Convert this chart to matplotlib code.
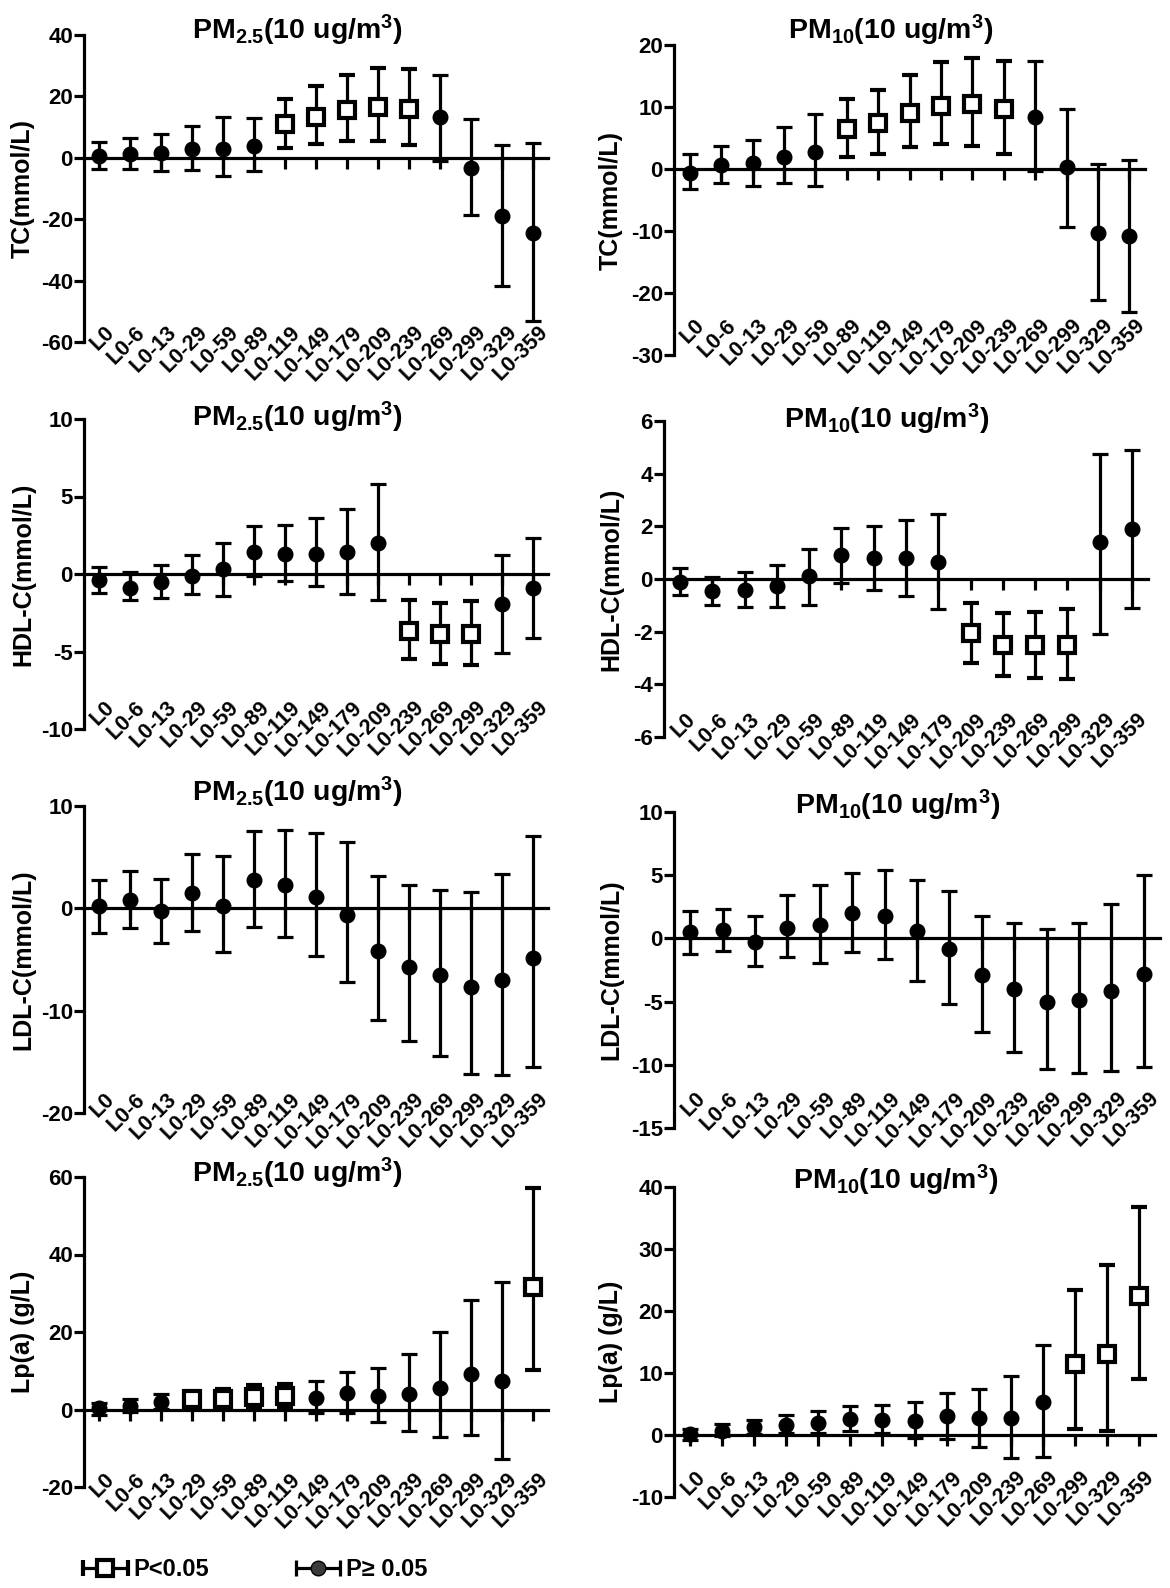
import matplotlib

matplotlib.use("Agg")
import matplotlib.pyplot as plt
from matplotlib.container import ErrorbarContainer
from matplotlib.legend_handler import HandlerErrorbar
from matplotlib.transforms import blended_transform_factory

plt.rcParams["font.family"] = ["Liberation Sans", "DejaVu Sans"]
plt.rcParams["font.weight"] = "bold"
plt.rcParams["mathtext.fontset"] = "custom"
plt.rcParams["mathtext.rm"] = "Liberation Sans:bold"
plt.rcParams["mathtext.bf"] = "Liberation Sans:bold"
plt.rcParams["mathtext.default"] = "bf"
plt.rcParams["axes.unicode_minus"] = False

lags = ["L0", "L0-6", "L0-13", "L0-29", "L0-59", "L0-89", "L0-119", "L0-149",
        "L0-179", "L0-209", "L0-239", "L0-269", "L0-299", "L0-329", "L0-359"]

# TC, PM2.5
tc25_est = [0.6, 1.4, 1.7, 2.9, 2.9, 3.9, 10.9, 13.3, 15.7, 16.7, 15.9, 13.3, -3.4, -18.9, -24.5]
tc25_lo = [-3.8, -3.6, -4.4, -3.9, -6.0, -4.4, 3.2, 4.5, 5.6, 5.6, 4.1, -0.9, -18.7, -41.6, -53.2]
tc25_hi = [5.0, 6.4, 7.7, 10.5, 13.2, 13.0, 19.3, 23.3, 27.0, 29.3, 28.9, 26.9, 12.7, 4.1, 4.7]
tc25_sig = [0, 0, 0, 0, 0, 0, 1, 1, 1, 1, 1, 0, 0, 0, 0]

# TC, PM10
tc10_est = [-0.6, 0.7, 1.0, 2.0, 2.8, 6.4, 7.5, 9.0, 10.2, 10.5, 9.6, 8.4, 0.3, -10.3, -10.8]
tc10_lo = [-3.3, -2.3, -2.8, -2.3, -2.8, 2.0, 2.5, 3.5, 4.0, 3.7, 2.4, -0.4, -9.3, -21.1, -23.0]
tc10_hi = [2.4, 3.7, 4.7, 6.7, 8.9, 11.3, 12.8, 15.1, 17.2, 17.9, 17.4, 17.5, 9.6, 0.8, 1.4]
tc10_sig = [0, 0, 0, 0, 0, 1, 1, 1, 1, 1, 1, 0, 0, 0, 0]

# HDL-C, PM2.5
hdl25_est = [-0.4, -0.9, -0.5, -0.15, 0.3, 1.4, 1.3, 1.3, 1.4, 2.0, -3.65, -3.85, -3.85, -1.95, -0.9]
hdl25_lo = [-1.2, -1.7, -1.55, -1.3, -1.4, -0.15, -0.45, -0.8, -1.3, -1.65, -5.5, -5.8, -5.85, -5.1, -4.1]
hdl25_hi = [0.45, 0.1, 0.6, 1.2, 2.0, 3.1, 3.15, 3.6, 4.2, 5.8, -1.7, -1.85, -1.75, 1.25, 2.35]
hdl25_sig = [0, 0, 0, 0, 0, 0, 0, 0, 0, 0, 1, 1, 1, 0, 0]

# HDL-C, PM10
hdl10_est = [-0.1, -0.45, -0.4, -0.25, 0.1, 0.9, 0.8, 0.8, 0.65, -2.05, -2.5, -2.5, -2.5, 1.4, 1.9]
hdl10_lo = [-0.6, -1.0, -1.05, -1.05, -1.0, -0.15, -0.4, -0.65, -1.15, -3.2, -3.7, -3.75, -3.8, -2.1, -1.1]
hdl10_hi = [0.4, 0.08, 0.28, 0.55, 1.13, 1.95, 2.0, 2.25, 2.48, -0.92, -1.3, -1.25, -1.15, 4.75, 4.9]
hdl10_sig = [0, 0, 0, 0, 0, 0, 0, 0, 0, 1, 1, 1, 1, 0, 0]

# LDL-C, PM2.5
ldl25_est = [0.2, 0.8, -0.3, 1.45, 0.25, 2.8, 2.3, 1.1, -0.65, -4.2, -5.7, -6.5, -7.7, -7.0, -4.9]
ldl25_lo = [-2.4, -1.9, -3.4, -2.2, -4.3, -1.8, -2.8, -4.7, -7.2, -10.9, -13.0, -14.4, -16.2, -16.3, -15.5]
ldl25_hi = [2.8, 3.6, 2.9, 5.3, 5.1, 7.6, 7.7, 7.4, 6.5, 3.2, 2.3, 1.8, 1.6, 3.4, 7.1]
ldl25_sig = [0] * 15

# LDL-C, PM10
ldl10_est = [0.5, 0.65, -0.3, 0.85, 1.05, 2.0, 1.8, 0.6, -0.85, -2.9, -4.0, -5.0, -4.9, -4.2, -2.85]
ldl10_lo = [-1.2, -1.0, -2.2, -1.5, -1.95, -1.05, -1.6, -3.35, -5.2, -7.4, -8.95, -10.35, -10.65, -10.5, -10.15]
ldl10_hi = [2.15, 2.3, 1.75, 3.4, 4.25, 5.15, 5.4, 4.65, 3.75, 1.8, 1.25, 0.75, 1.25, 2.7, 5.05]
ldl10_sig = [0] * 15

# Lp(a), PM2.5
lpa25_est = [0.3, 1.0, 1.9, 2.6, 2.6, 3.2, 3.4, 3.0, 4.3, 3.4, 3.9, 5.6, 9.2, 7.3, 31.6]
lpa25_lo = [-1.5, -0.7, 0.2, 0.3, 0.6, 0.6, 0.3, -0.9, -0.9, -3.1, -5.6, -7.0, -6.6, -12.9, 10.3]
lpa25_hi = [1.6, 2.8, 4.0, 4.5, 5.2, 6.2, 6.6, 7.3, 9.7, 10.8, 14.2, 20.0, 28.2, 32.9, 57.1]
lpa25_sig = [0, 0, 0, 1, 1, 1, 1, 0, 0, 0, 0, 0, 0, 0, 1]

# Lp(a), PM10
lpa10_est = [0.2, 0.7, 1.3, 1.6, 2.0, 2.6, 2.5, 2.2, 3.0, 2.8, 2.7, 5.3, 11.5, 13.0, 22.4]
lpa10_lo = [-0.8, -0.2, 0.1, 0.3, 0.3, 0.7, 0.3, -0.5, -0.7, -1.9, -3.7, -3.5, 0.9, 0.6, 9.1]
lpa10_hi = [1.0, 1.8, 2.5, 3.3, 3.8, 4.6, 4.9, 5.3, 6.7, 7.5, 9.5, 14.5, 23.4, 27.4, 36.8]
lpa10_sig = [0, 0, 0, 0, 0, 0, 0, 0, 0, 0, 0, 0, 1, 1, 1]

title_25 = "PM$_{2.5}$(10 ug/m$^3$)"
title_10 = "PM$_{10}$(10 ug/m$^3$)"

panels = [
    ("TC(mmol/L)", title_25, tc25_est, tc25_lo, tc25_hi, tc25_sig, (-60, 40), 20),
    ("TC(mmol/L)", title_10, tc10_est, tc10_lo, tc10_hi, tc10_sig, (-30, 20), 10),
    ("HDL-C(mmol/L)", title_25, hdl25_est, hdl25_lo, hdl25_hi, hdl25_sig, (-10, 10), 5),
    ("HDL-C(mmol/L)", title_10, hdl10_est, hdl10_lo, hdl10_hi, hdl10_sig, (-6, 6), 2),
    ("LDL-C(mmol/L)", title_25, ldl25_est, ldl25_lo, ldl25_hi, ldl25_sig, (-20, 10), 10),
    ("LDL-C(mmol/L)", title_10, ldl10_est, ldl10_lo, ldl10_hi, ldl10_sig, (-15, 10), 5),
    ("Lp(a) (g/L)", title_25, lpa25_est, lpa25_lo, lpa25_hi, lpa25_sig, (-20, 60), 20),
    ("Lp(a) (g/L)", title_10, lpa10_est, lpa10_lo, lpa10_hi, lpa10_sig, (-10, 40), 10),
]

# axes boxes in pixels: left, right, top, bottom
W, H = 1170, 1588
boxes = [
    (84, 548, 35, 342), (674, 1145, 45, 355),
    (84, 548, 419, 729), (664, 1148, 421, 737),
    (84, 548, 806, 1113), (674, 1160, 812, 1128),
    (84, 548, 1177, 1487), (674, 1155, 1187, 1497),
]
label_rise = [20, 40, 32, 28, 24, 40, 18, 30]   # px above axes bottom
title_rise = [5, 15, 2, 2, 14, 7, 4, 7]         # px above axes top
ylabel_x = [23, 611, 23, 611, 23, 611, 23, 611]  # px, centre of y label

fig = plt.figure(figsize=(W / 100, H / 100), dpi=100)
LW = 2.3
bar_kw = dict(ecolor="black", elinewidth=LW, capsize=5.5, capthick=LW)
sig_kw = dict(fmt="s", ms=12, mfc="white", mec="black", mew=3.0, **bar_kw)
ns_kw = dict(fmt="o", ms=10.5, mfc="black", mec="black", **bar_kw)

for (ylabel, title, est, lo, hi, sig, ylim, step), box, rise, trise, ylx in zip(
        panels, boxes, label_rise, title_rise, ylabel_x):
    left, right, top, bottom = box
    ax = fig.add_axes([left / W, 1 - bottom / H, (right - left) / W, (bottom - top) / H])
    xs = list(range(len(lags)))
    for kind in (0, 1):
        idx = [i for i in xs if sig[i] == kind]
        x = [xs[i] for i in idx]
        y = [est[i] for i in idx]
        err = [[est[i] - lo[i] for i in idx], [hi[i] - est[i] for i in idx]]
        ax.errorbar(x, y, yerr=err, zorder=3, **(sig_kw if kind else ns_kw))

    ax.set_xlim(-0.5, len(lags) - 0.5)
    ax.set_ylim(*ylim)
    ax.set_yticks(range(ylim[0], ylim[1] + 1, step))
    ax.spines["top"].set_visible(False)
    ax.spines["right"].set_visible(False)
    ax.spines["bottom"].set_position(("data", 0))
    ax.spines["left"].set_linewidth(LW)
    ax.spines["bottom"].set_linewidth(LW)
    ax.tick_params(axis="y", direction="out", length=7, width=LW, labelsize=16, pad=1)
    ax.tick_params(axis="x", direction="out", length=8, width=LW, labelbottom=False)
    ax.set_xticks(xs)

    trans = blended_transform_factory(ax.transData, ax.transAxes)
    ybase = rise / (bottom - top)
    for i, lab in enumerate(lags):
        ax.text(i + 0.15, ybase, lab, transform=trans, rotation=45,
                rotation_mode="anchor", ha="right", va="top", fontsize=15.5,
                fontweight="bold", clip_on=False)

    ax.set_ylabel(ylabel, fontsize=18, fontweight="bold", va="center")
    ax.yaxis.set_label_coords((ylx - left) / (right - left), 0.5)
    ax.annotate(title, xy=(0.46, 1.0), xycoords="axes fraction",
                xytext=(0, trise), textcoords="offset pixels",
                ha="center", va="center", fontsize=20.5, fontweight="bold")

# legend drawn from hidden horizontal error bars
lax = fig.add_axes([0.0, 0.0, 0.4, 0.04])
lax.set_xlim(10, 11)
lax.axis("off")
h_sig = lax.errorbar([0], [0], xerr=[1], **sig_kw)
h_ns = lax.errorbar([0], [0], xerr=[1], **dict(ns_kw, mfc="#3a3a3a"))
fig.legend([h_sig, h_ns], ["P<0.05", "P\u2265 0.05"], loc="center left",
           bbox_to_anchor=(70 / W, 1 - 1570 / H), ncol=2, frameon=False,
           prop={"size": 17, "weight": "bold"}, handlelength=2.0, handletextpad=0.2,
           columnspacing=3.6, borderpad=0,
           handler_map={ErrorbarContainer: HandlerErrorbar(xerr_size=0.95)})

fig.savefig("out.png", dpi=100)
